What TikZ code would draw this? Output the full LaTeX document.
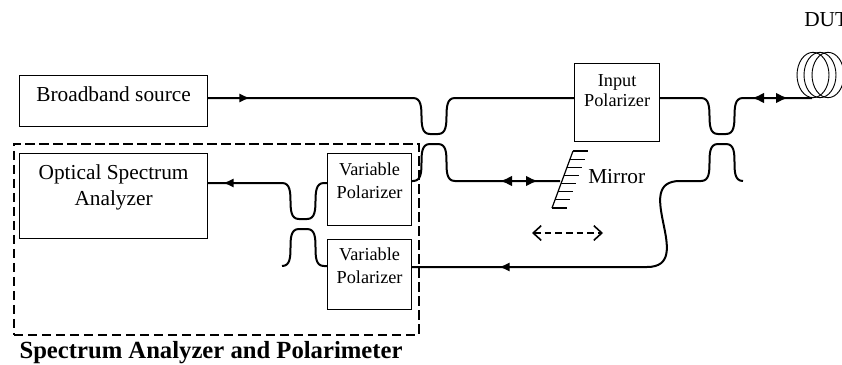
\documentclass[tikz,border=0pt]{standalone}
\usepackage{fontspec}
\setmainfont{Liberation Serif}
\usetikzlibrary{arrows.meta, calc, shapes.geometric}
\tikzset{
    box/.style={draw, line width=0.9pt, inner sep=0pt, align=center, anchor=north west},
    bigtext/.style={font=\fontsize{16}{19}\selectfont},
    smalltext/.style={font=\fontsize{13.7}{17}\selectfont},
    fiber/.style={line width=1.5pt},
    sbend/.style={out=0, in=180, looseness=1.05},
    rbend/.style={out=180, in=0, looseness=1.05},
    tip/.style={-{Latex[length=8pt,width=7pt]}},
    tips/.style={{Latex[length=9pt,width=8pt]}-{Latex[length=9pt,width=8pt]}},
    coil/.style={draw, ellipse, line width=0.7pt, minimum width=24pt, minimum height=34pt, inner sep=0pt},
}
\newcommand{\coupler}[3]{%
    \coordinate (#1tl) at (#2-21,#3);
    \coordinate (#1bl) at (#2-4,#3+36);
    \coordinate (#1br) at (#2+4,#3+36);
    \coordinate (#1tr) at (#2+21,#3);
    \coordinate (#1fl) at (#2-21,#3+83);
    \coordinate (#1hl) at (#2-4,#3+46);
    \coordinate (#1hr) at (#2+4,#3+46);
    \coordinate (#1fr) at (#2+21,#3+83);
}
\begin{document}
\begin{tikzpicture}[x=0.75pt, y=-0.75pt]
    \useasboundingbox (0,0) rectangle (842,364);
    \node[box, bigtext, minimum width=141pt, minimum height=38.25pt] (source) at (19,75) {Broadband source\\[-8pt]\mbox{}};
    \node[box, smalltext, minimum width=63.75pt, minimum height=58.5pt] (input) at (574,63) {Input\\[-1.5pt]Polarizer\\[1pt]\mbox{}};
    \node[box, bigtext, minimum width=141pt, minimum height=63.75pt] (osa) at (19,153) {Optical Spectrum\\Analyzer\\[-2.5pt]\mbox{}};
    \node[box, smalltext, minimum width=63pt, minimum height=54pt] (varone) at (327,153) {Variable\\Polarizer\\[-4pt]\mbox{}};
    \node[box, smalltext, minimum width=63pt, minimum height=52.5pt] (vartwo) at (327,239) {Variable\\Polarizer\\[-3.5pt]\mbox{}};
    \node[box, dash pattern=on 7pt off 3.5pt, line width=1.2pt, minimum width=303.75pt, minimum height=143.25pt] (analyzer) at (13,143) {};
    \node[font=\bfseries\fontsize{18.5}{22}\selectfont] (title) at (211,353) {Spectrum Analyzer and Polarimeter};
    \node[bigtext, anchor=west, inner sep=0pt] (dut) at (804,20) {DUT};
    \node[bigtext, anchor=west, inner sep=0pt] (mirrortext) at (588,177) {Mirror};
    \node[coil] (coila) at (813,75) {};
    \node[coil] (coilb) at (820,75) {};
    \node[coil] (coilc) at (828,75) {};
    \coupler{u}{434}{98}
    \coupler{v}{722}{98}
    \coupler{w}{303}{183}
    \coordinate (mirrortop) at (573,151);
    \coordinate (mirrorbot) at (552,208);
    \coordinate (mirrorhit) at (560,181);
    \coordinate (bend) at (680,181);
    \coordinate (lowline) at (647,267);
    \coordinate (varend) at (743,181);
    \coordinate (coilend) at (812,98);
    % fibers
    \draw[fiber] (source.east |- utl) -- (utl) to[sbend] (ubl) -- (ubr) to[sbend] (utr) -- (input.west |- utr);
    \draw[fiber] (input.east |- vtl) -- (vtl) to[sbend] (vbl) -- (vbr) to[sbend] (vtr) -- (coilend);
    \draw[fiber] (varone.east |- ufl) -- (ufl) to[sbend] (uhl) -- (uhr) to[sbend] (ufr) -- (mirrorhit);
    \draw[fiber] (varend) -- (vfr) to[rbend] (vhr) -- (vhl) to[rbend] (vfl) -- (bend) to[rbend, looseness=1.4] (lowline) -- (vartwo.east |- lowline);
    \draw[fiber] (varone.west |- wtr) -- (wtr) to[rbend] (wbr) -- (wbl) to[rbend] (wtl) -- (osa.east |- wtl);
    \draw[fiber] (wfl) to[sbend] (whl) -- (whr) to[sbend] (wfr) -- (vartwo.west |- wfr);
    % arrow heads
    \coordinate (tailone) at (238,98);
    \coordinate (headone) at (250,98);
    \coordinate (tailtwo) at (236,183);
    \coordinate (headtwo) at (223,183);
    \coordinate (tailthree) at (512,267);
    \coordinate (headthree) at (499,267);
    \draw[fiber, tip] (tailone) -- (headone);
    \draw[fiber, tip] (tailtwo) -- (headtwo);
    \draw[fiber, tip] (tailthree) -- (headthree);
    \coordinate (dblonel) at (752,98);
    \coordinate (dbloner) at (788,98);
    \coordinate (dbltwol) at (500,181);
    \coordinate (dbltwor) at (538,181);
    \draw[fiber, tips] (dblonel) -- (dbloner);
    \draw[fiber, tips] (dbltwol) -- (dbltwor);
    % mirror
    \draw[line width=0.9pt] (mirrortop) -- (mirrorbot);
    \foreach \i in {0,...,7} {
        \draw[line width=0.9pt] ($(mirrortop)!\i/7!(mirrorbot)$) -- ++(15,0);
    }
    \coordinate (moveleft) at (532,233);
    \coordinate (moveright) at (603,233);
    \draw[line width=1.2pt, dash pattern=on 5pt off 3pt, {Straight Barb[length=6pt,width=11pt]}-{Straight Barb[length=6pt,width=11pt]}] (moveleft) -- (moveright);
\end{tikzpicture}
\end{document}
